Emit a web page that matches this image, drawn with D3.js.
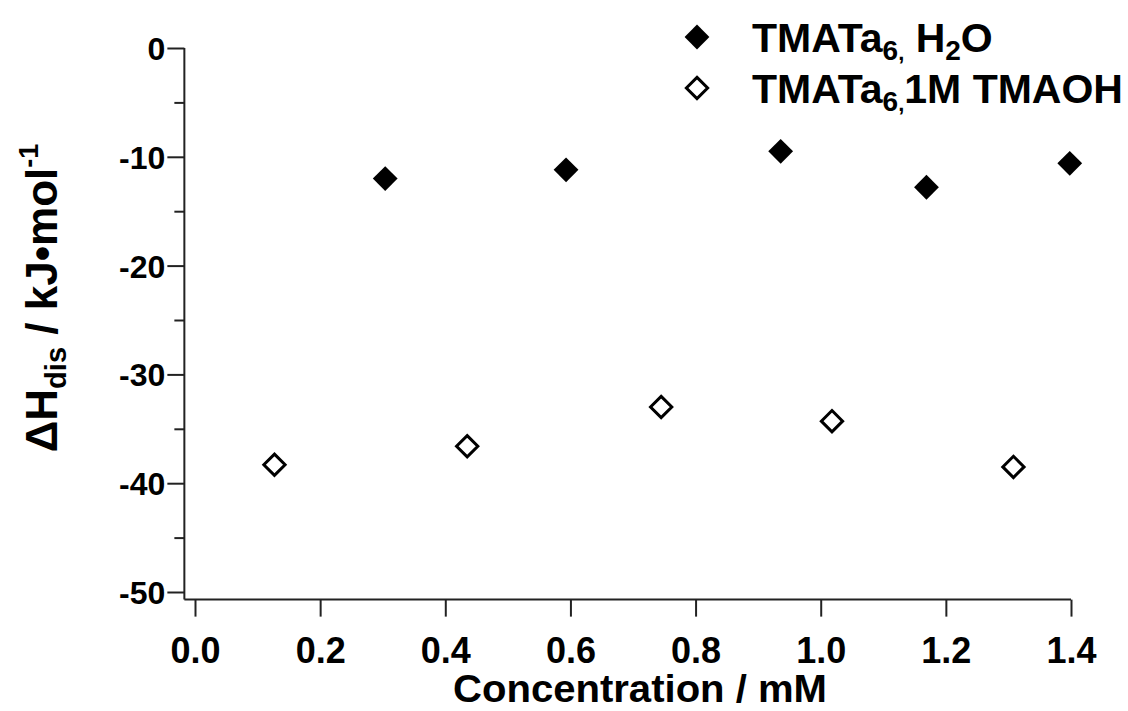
<!DOCTYPE html>
<html>
<head>
<meta charset="utf-8">
<script src="https://cdn.jsdelivr.net/npm/d3@7"></script>
<style>
  html, body { margin: 0; padding: 0; background: #fff; }
  svg text { font-family: "Liberation Sans", Arial, sans-serif; font-weight: bold; fill: #000; }
</style>
</head>
<body>
<svg id="chart" width="1128" height="711"></svg>
<script>
// ---- data ----
const waterConc = [0.304, 0.593, 0.936, 1.169, 1.398];
const waterDH   = [-12.0, -11.2, -9.5, -12.8, -10.6];
const tmaohConc = [0.127, 0.435, 0.745, 1.018, 1.308];
const tmaohDH   = [-38.3, -36.6, -33.0, -34.3, -38.5];
const xTickValues = [0, 0.2, 0.4, 0.6, 0.8, 1.0, 1.2, 1.4];
const xTickLabels = ["0.0", "0.2", "0.4", "0.6", "0.8", "1.0", "1.2", "1.4"];
const yTickValues = [0, -10, -20, -30, -40, -50];
const yTickLabels = ["0", "-10", "-20", "-30", "-40", "-50"];
const yMinorTickValues = [-5, -15, -25, -35, -45];

const svg = d3.select("#chart");
const x = d3.scaleLinear().domain([0, 1.4]).range([195, 1071]);
const y = d3.scaleLinear().domain([0, -50]).range([48, 592]);
const xAxisMin = -0.017, yAxisMin = -50.7;
const axisX = x(xAxisMin), axisY = y(yAxisMin);
const stroke = "#222";
const FONT = "Liberation Sans, Arial, sans-serif";

// axis lines
svg.append("line").attr("x1", axisX).attr("x2", axisX).attr("y1", y(0)).attr("y2", axisY)
  .attr("stroke", stroke).attr("stroke-width", 2);
svg.append("line").attr("x1", axisX).attr("x2", x(1.4)).attr("y1", axisY).attr("y2", axisY)
  .attr("stroke", stroke).attr("stroke-width", 2);

// y axis
const yAxis = svg.append("g").attr("transform", `translate(${axisX},0)`)
  .call(d3.axisLeft(y).tickValues(yTickValues).tickSize(17).tickPadding(2)
    .tickFormat((d, i) => yTickLabels[i]));
yAxis.select(".domain").remove();
yAxis.selectAll(".tick line").attr("stroke", stroke).attr("stroke-width", 2);
yAxis.selectAll(".tick text").attr("font-size", 32).attr("font-family", FONT)
  .attr("font-weight", "bold").attr("fill", "#000").attr("dy", "0.36em");
const yMinor = svg.append("g").attr("transform", `translate(${axisX},0)`)
  .call(d3.axisLeft(y).tickValues(yMinorTickValues).tickSize(10).tickFormat(""));
yMinor.select(".domain").remove();
yMinor.selectAll(".tick line").attr("stroke", stroke).attr("stroke-width", 2);

// x axis
const xAxis = svg.append("g").attr("transform", `translate(0,${axisY})`)
  .call(d3.axisBottom(x).tickValues(xTickValues).tickSize(17)
    .tickFormat((d, i) => xTickLabels[i]));
xAxis.select(".domain").remove();
xAxis.selectAll(".tick line").attr("stroke", stroke).attr("stroke-width", 2);
xAxis.selectAll(".tick text").attr("font-size", 36).attr("font-family", FONT)
  .attr("font-weight", "bold").attr("fill", "#000").attr("y", 63).attr("dy", 0);

// axis titles
svg.append("text").attr("x", 640).attr("y", 702).attr("text-anchor", "middle")
  .attr("font-size", 38).attr("textLength", 374).attr("lengthAdjust", "spacingAndGlyphs")
  .text("Concentration / mM");

const yTitle = svg.append("text").attr("transform", "translate(57,298) rotate(-90)")
  .attr("text-anchor", "middle").attr("font-size", 44);
yTitle.append("tspan").text("\u0394H");
yTitle.append("tspan").attr("font-size", 29).attr("dy", 9).text("dis");
yTitle.append("tspan").attr("dy", -9).text(" / kJ\u2022mol");
yTitle.append("tspan").attr("font-size", 27).attr("dy", -19).text("-1");

// markers
const diamond = d3.symbol().type(d3.symbolDiamond2);
const filledSize = 28 * 28 / 2;
const openSize = 24 * 24 / 2;
svg.append("g").selectAll("path").data(waterConc.map((c, i) => [c, waterDH[i]])).join("path")
  .attr("d", diamond.size(filledSize)())
  .attr("transform", d => `translate(${x(d[0])},${y(d[1])})`)
  .attr("fill", "#000");
svg.append("g").selectAll("path").data(tmaohConc.map((c, i) => [c, tmaohDH[i]])).join("path")
  .attr("d", diamond.size(openSize)())
  .attr("transform", d => `translate(${x(d[0])},${y(d[1])})`)
  .attr("fill", "#fff").attr("stroke", "#000").attr("stroke-width", 3);

// legend
const legend = svg.append("g");
legend.append("path").attr("d", diamond.size(filledSize)()).attr("transform", "translate(697,37)").attr("fill", "#000");
legend.append("path").attr("d", diamond.size(openSize)()).attr("transform", "translate(697,88)")
  .attr("fill", "#fff").attr("stroke", "#000").attr("stroke-width", 3);
const l1 = legend.append("text").attr("x", 752).attr("y", 52).attr("font-size", 41);
l1.append("tspan").text("TMATa");
l1.append("tspan").attr("font-size", 28).attr("dy", 8).text("6");
l1.append("tspan").attr("font-size", 22).text(",");
l1.append("tspan").attr("dy", -8).text("  H");
l1.append("tspan").attr("font-size", 28).attr("dy", 8).text("2");
l1.append("tspan").attr("dy", -8).text("O");
const l2 = legend.append("text").attr("x", 752).attr("y", 103).attr("font-size", 41);
l2.append("tspan").text("TMATa");
l2.append("tspan").attr("font-size", 28).attr("dy", 8).text("6");
l2.append("tspan").attr("font-size", 22).text(",");
l2.append("tspan").attr("dy", -8).text("1M TMAOH");
</script>
</body>
</html>
